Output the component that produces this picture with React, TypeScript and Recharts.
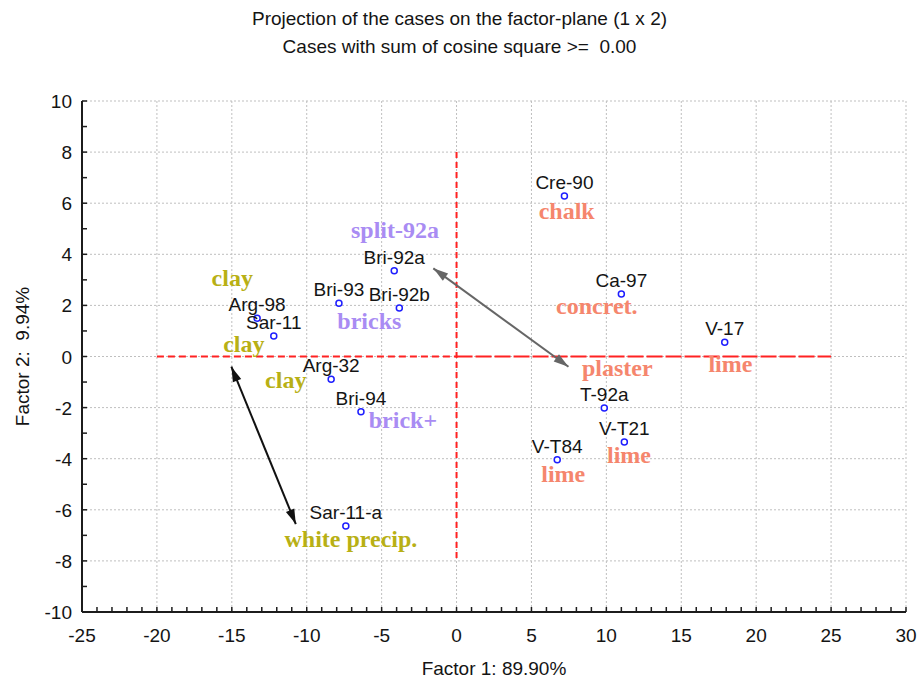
import { CartesianGrid, ReferenceLine, Scatter, ScatterChart, XAxis, YAxis } from "recharts";

// cases on the factor plane
const caseNames = ["Cre-90", "Ca-97", "V-17", "T-92a", "V-T21", "V-T84", "Bri-92a", "Bri-92b", "Bri-93", "Arg-98", "Sar-11", "Arg-32", "Bri-94", "Sar-11-a"];
const factor1 = [7.2, 11.0, 17.9, 9.86, 11.2, 6.72, -4.16, -3.82, -7.85, -13.31, -12.2, -8.37, -6.38, -7.39];
const factor2 = [6.28, 2.45, 0.56, -2.02, -3.35, -4.04, 3.36, 1.9, 2.08, 1.5, 0.8, -0.89, -2.16, -6.63];

// material annotations
const noteTexts = ["split-92a", "clay", "bricks", "clay", "clay", "brick+", "white precip.", "chalk", "concret.", "plaster", "lime", "lime", "lime"];
const noteGroups = ["brick", "clay", "brick", "clay", "clay", "brick", "clay", "lime", "lime", "lime", "lime", "lime", "lime"];
const noteX = [-4.11, -14.97, -5.82, -14.2, -11.4, -3.58, -7.05, 7.35, 9.36, 10.73, 18.28, 11.51, 7.12];
const noteY = [4.64, 2.76, 1.08, 0.19, -1.23, -2.8, -7.46, 5.38, 1.66, -0.76, -0.6, -4.18, -4.9];

const xMajor = [-25, -20, -15, -10, -5, 0, 5, 10, 15, 20, 25, 30];
const yMajor = [-10, -8, -6, -4, -2, 0, 2, 4, 6, 8, 10];
const xMinor: number[] = [];
for (let v = -25; v <= 30; v++) xMinor.push(v);
const yMinor: number[] = [];
for (let v = -10; v <= 10; v++) yMinor.push(v);

const grayArrow = [{ x: -1.55, y: 3.45 }, { x: 7.47, y: -0.4 }];
const blackArrow = [{ x: -15.03, y: -0.4 }, { x: -10.73, y: -6.56 }];
const hLineLeft = [{ x: -20, y: 0 }, { x: 0, y: 0 }];
const hLineRight = [{ x: 0, y: 0 }, { x: 25, y: 0 }];
const vLine = [{ x: 0, y: 8 }, { x: 0, y: -8 }];

const points = caseNames.map((name, i) => ({ name, x: factor1[i], y: factor2[i] }));
const notes = noteTexts.map((text, i) => ({ text, group: noteGroups[i], x: noteX[i], y: noteY[i] }));

const groupColor: Record<string, string> = { clay: "#b8b015", brick: "#a98cf3", lime: "#f5866d" };
const FRAME = "#1c1c1c";
const TXT = "#141414";

const BottomTick = ({ x, y, payload }: any) => (
  <g>
    <line x1={x} y1={y} x2={x} y2={y - 5} stroke={FRAME} strokeWidth={1.5} />
    {xMajor.includes(payload.value) && (
      <text x={x} y={y + 30} textAnchor="middle" fontSize={19} fill={TXT}>{payload.value}</text>
    )}
  </g>
);
const TopTick = ({ x, y }: any) => <line x1={x} y1={y} x2={x} y2={y + 5} stroke={FRAME} strokeWidth={1.5} />;
const LeftTick = ({ x, y, payload }: any) => (
  <g>
    <line x1={x} y1={y} x2={x + 5} y2={y} stroke={FRAME} strokeWidth={1.5} />
    {yMajor.includes(payload.value) && (
      <text x={x - 10} y={y + 7} textAnchor="end" fontSize={19} fill={TXT}>{payload.value}</text>
    )}
  </g>
);
const RightTick = ({ x, y }: any) => <line x1={x} y1={y} x2={x - 5} y2={y} stroke={FRAME} strokeWidth={1.5} />;

function head(tx: number, ty: number, fx: number, fy: number, len: number, half: number) {
  const d = Math.hypot(tx - fx, ty - fy) || 1;
  const ux = (tx - fx) / d, uy = (ty - fy) / d;
  const bx = tx - ux * len, by = ty - uy * len;
  return `${tx},${ty} ${bx - uy * half},${by + ux * half} ${bx + uy * half},${by - ux * half}`;
}

const doubleArrow = (color: string) => (p: any) => {
  const { x1, y1, x2, y2 } = p;
  return (
    <g>
      <line x1={x1} y1={y1} x2={x2} y2={y2} stroke={color} strokeWidth={2} />
      <polygon points={head(x1, y1, x2, y2, 15, 4.5)} fill={color} />
      <polygon points={head(x2, y2, x1, y1, 15, 4.5)} fill={color} />
    </g>
  );
};

const CaseDot = (p: any) => (
  <g>
    <circle cx={p.cx} cy={p.cy} r={3} fill="#fff" stroke="#1e1eff" strokeWidth={1.5} />
    <text x={p.cx} y={p.cy - 7} textAnchor="middle" fontSize={19} fill={TXT}>{p.payload.name}</text>
  </g>
);

const NoteText = (p: any) => (
  <text x={p.cx} y={p.cy} textAnchor="middle" fontFamily="'Liberation Serif', 'Times New Roman', serif" fontWeight="bold" fontSize={24} fill={groupColor[p.payload.group]}>
    {p.payload.text}
  </text>
);

export default function App() {
  return (
    <div style={{ position: "absolute", left: 0, top: 0, width: 919, height: 681, background: "#fff", fontFamily: "'Liberation Sans', Arial, sans-serif" }}>
      <div style={{ position: "absolute", left: 0, width: 919, top: 9, textAlign: "center", fontSize: 19, lineHeight: "19px", color: TXT }}>
        Projection of the cases on the factor-plane (1 x 2)
      </div>
      <div style={{ position: "absolute", left: 0, width: 919, top: 37, textAlign: "center", fontSize: 19, lineHeight: "19px", color: TXT }}>
        Cases with sum of cosine square &gt;=&nbsp; 0.00
      </div>
      <ScatterChart width={919} height={681} margin={{ top: 101, right: 13, bottom: 0, left: 0 }}>
        <CartesianGrid xAxisId="b" yAxisId="l" verticalValues={xMajor} horizontalValues={yMajor} stroke="#bfbfbf" strokeDasharray="2 2" />
        <XAxis xAxisId="b" type="number" dataKey="x" domain={[-25, 30]} allowDataOverflow ticks={xMinor} interval={0}
          tickLine={false} tickSize={0} tickMargin={0} height={69} axisLine={{ stroke: FRAME, strokeWidth: 2 }} tick={BottomTick}
          label={{ value: "Factor 1: 89.90%", position: "insideBottom", offset: 6, fontSize: 19, fill: TXT }} />
        <XAxis xAxisId="t" orientation="top" type="number" domain={[-25, 30]} allowDataOverflow ticks={xMinor} interval={0}
          tickLine={false} tickSize={0} tickMargin={0} height={0} axisLine={{ stroke: FRAME, strokeWidth: 2 }} tick={TopTick} />
        <YAxis yAxisId="l" type="number" dataKey="y" domain={[-10, 10]} allowDataOverflow ticks={yMinor} interval={0}
          tickLine={false} tickSize={0} tickMargin={0} width={82} axisLine={{ stroke: FRAME, strokeWidth: 2 }} tick={LeftTick}
          label={(lp: any) => {
            const vb = lp.viewBox || { x: 0, y: 101, width: 82, height: 511 };
            const cx = vb.x + 22, cy = vb.y + vb.height / 2;
            return (
              <text x={cx} y={cy} transform={`rotate(-90 ${cx} ${cy})`} textAnchor="middle" dominantBaseline="central" fontSize={19} fill={TXT}>
                Factor 2:&#160; 9.94%
              </text>
            );
          }} />
        <YAxis yAxisId="r" orientation="right" type="number" domain={[-10, 10]} allowDataOverflow ticks={yMinor} interval={0}
          tickLine={false} tickSize={0} tickMargin={0} width={0} axisLine={{ stroke: FRAME, strokeWidth: 2 }} tick={RightTick} />
        <ReferenceLine xAxisId="b" yAxisId="l" segment={hLineLeft} stroke="#f22" strokeWidth={2} strokeDasharray="7 4" />
        <ReferenceLine xAxisId="b" yAxisId="l" segment={hLineRight} stroke="#f22" strokeWidth={2} strokeDasharray="16 3" />
        <ReferenceLine xAxisId="b" yAxisId="l" segment={vLine} stroke="#f22" strokeWidth={2} strokeDasharray="6 4" />
        <ReferenceLine xAxisId="b" yAxisId="l" segment={grayArrow} shape={doubleArrow("#666666")} />
        <ReferenceLine xAxisId="b" yAxisId="l" segment={blackArrow} shape={doubleArrow("#111111")} />
        <Scatter xAxisId="b" yAxisId="l" data={notes} shape={NoteText} isAnimationActive={false} />
        <Scatter xAxisId="b" yAxisId="l" data={points} shape={CaseDot} isAnimationActive={false} />
      </ScatterChart>
    </div>
  );
}
